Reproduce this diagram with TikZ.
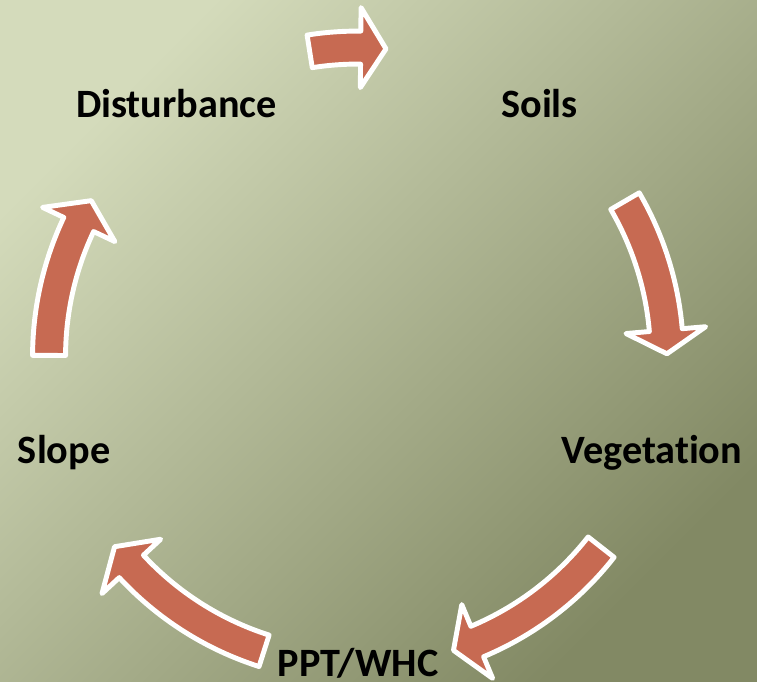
\documentclass[tikz,border=0pt]{standalone}
\usepackage{fontspec}
\setmainfont{Carlito}[Ligatures=NoCommon]
\usepackage{xcolor}

\definecolor{bgLight}{RGB}{212,219,187}
\definecolor{bgMid}{RGB}{168,175,138}
\definecolor{bgDark}{RGB}{130,137,100}
\definecolor{arrowRed}{RGB}{199,106,82}

\begin{document}
\begin{tikzpicture}[x=0.02cm, y=0.02cm,
  cyclelabel/.style={font=\fontsize{22.9}{27}\selectfont\bfseries, text height=0.64em, text depth=0pt, inner sep=0pt, yshift=-3.2pt},
  cyclearrow/.style={fill=arrowRed, draw=white, line width=2.8pt, line join=round}]
  % adjustable parameters
  \def\R{6.18cm}    % cycle radius
  \def\Ro{6.51cm}   % shaft outer radius
  \def\Ri{5.85cm}   % shaft inner radius
  \def\Ho{6.98cm}   % head outer radius
  \def\Hi{5.38cm}   % head inner radius

  % background
  \useasboundingbox (0,0) rectangle (757,681);
  \shade[top color=bgLight, middle color=bgMid, bottom color=bgDark, shading angle=45] (0,0) rectangle (757,681);

  \coordinate (c) at (358,324.5);

  \begin{scope}[shift={(c)}]
    % labels on the cycle
    \node[cyclelabel] (soils) at (54:\R) {Soils};
    \node[cyclelabel] (veg) at (-18:\R) {Vegetation};
    \node[cyclelabel] (ppt) at (-90:\R) {PPT/WHC};
    \node[cyclelabel] (slope) at (198:\R) {Slope};
    \node[cyclelabel] (dist) at (126:\R) {Disturbance};

    % Disturbance -> Soils
    \draw[cyclearrow] (99:\Ro) arc[start angle=99, end angle=89.5, radius=\Ro]
      -- (89.5:\Ho) -- (84.8:\R) -- (89.5:\Hi) -- (89.5:\Ri)
      arc[start angle=89.5, end angle=99, radius=\Ri] -- cycle;

    % Soils -> Vegetation
    \draw[cyclearrow] (30.2:\Ro) arc[start angle=30.2, end angle=4.9, radius=\Ro]
      -- (4.9:\Ho) -- (0.5:\R) -- (4.9:\Hi) -- (4.9:\Ri)
      arc[start angle=4.9, end angle=30.2, radius=\Ri] -- cycle;

    % Vegetation -> PPT/WHC
    \draw[cyclearrow] (-38.1:\Ro) arc[start angle=-38.1, end angle=-67.3, radius=\Ro]
      -- (-67.3:\Ho) -- (-72:\R) -- (-67.3:\Hi) -- (-67.3:\Ri)
      arc[start angle=-67.3, end angle=-38.1, radius=\Ri] -- cycle;

    % PPT/WHC -> Slope
    \draw[cyclearrow] (-107.7:\Ro) arc[start angle=-107.7, end angle=-137.2, radius=\Ro]
      -- (-137.2:\Ho) -- (-142:\R) -- (-137.2:\Hi) -- (-137.2:\Ri)
      arc[start angle=-137.2, end angle=-107.7, radius=\Ri] -- cycle;

    % Slope -> Disturbance
    \draw[cyclearrow] (179.8:\Ro) arc[start angle=179.8, end angle=154.7, radius=\Ro]
      -- (154.7:\Ho) -- (149.7:\R) -- (154.7:\Hi) -- (154.7:\Ri)
      arc[start angle=154.7, end angle=179.8, radius=\Ri] -- cycle;
  \end{scope}
\end{tikzpicture}
\end{document}
